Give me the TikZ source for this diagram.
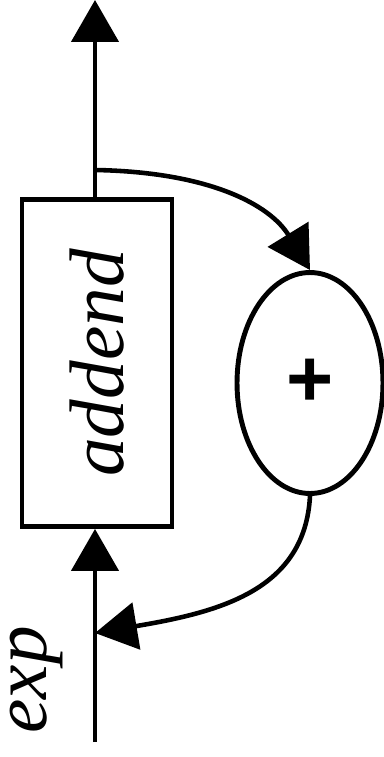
\documentclass[tikz,border=0pt]{standalone}
\usepackage{fontspec}
\setmainfont{Liberation Serif}
\newfontfamily\plusfont{Liberation Sans}
\usetikzlibrary{shapes.geometric, arrows.meta, positioning}
\tikzset{
  font=\itshape\fontsize{44}{50}\selectfont,
  baseblock/.style={
    draw=black, line width=2.8pt, inner sep=0pt, align=center
  },
  addblock/.style={baseblock, rectangle, minimum width=3cm, minimum height=6.54cm},
  sumblock/.style={
    baseblock, ellipse, minimum width=2.92cm, minimum height=4.42cm,
    font=\plusfont\bfseries\fontsize{46}{50}\selectfont
  },
  flowline/.style={
    draw=black, -{Triangle[length=0.84cm, width=0.94cm]}, line width=2.6pt
  }
}

\begin{document}
\begin{tikzpicture}[x=0.02cm, y=-0.02cm]
  \useasboundingbox (0,0) rectangle (384,757);

  % Blocks: addend box and summing node
  \node[addblock] (add) at (97,363) {\rotatebox{90}{addend}};
  \node[sumblock] (sum) at (310,383) {+};

  % Free ends and taps on the main line
  \coordinate (in) at (95,742);
  \coordinate (out) at (95,0);
  \coordinate (split) at (95,170);
  \coordinate (join) at (95,633);

  % Input label
  \node[rotate=90, inner sep=0pt] (explabel) at (37,680) {exp};

  % Main line through the block
  \draw[flowline] (in) -- (in |- add.south);
  \draw[flowline] (in |- add.north) -- (out);

  % Feedback loop through the summing node
  \draw[flowline] (split) .. controls (210,172) and (270,205) .. (sum.north);
  \draw[flowline] (sum.south) .. controls (305,590) and (220,612) .. (join);
\end{tikzpicture}
\end{document}
